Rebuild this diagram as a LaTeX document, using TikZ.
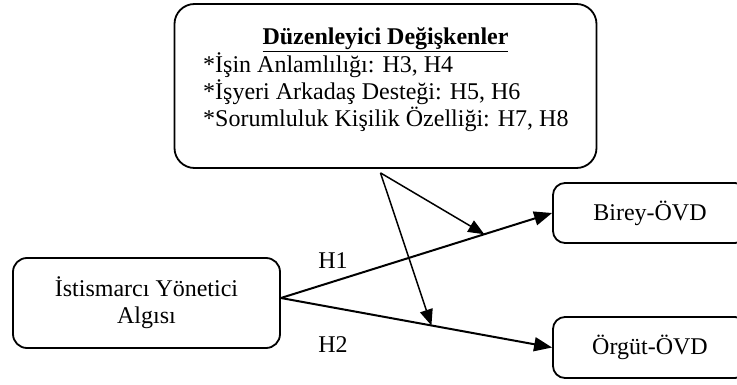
\documentclass[tikz,border=0pt]{standalone}
\usepackage{fontspec}
\setmainfont{Liberation Serif}
\usetikzlibrary{arrows.meta, positioning, calc}
\tikzstyle{kutu} = [draw, line width = 1.8pt, rounded corners = 14pt, inner sep = 0pt]
\tikzstyle{madde} = [anchor = base west, inner sep = 0pt]
\tikzstyle{ok} = [-{Triangle[length = 18pt, width = 14pt]}, line width = 2pt]
\tikzstyle{modok} = [-{Triangle[length = 16pt, width = 13pt]}, line width = 1.5pt]

\begin{document}
\begin{tikzpicture}[x = 1pt, y = -1pt, every node/.style = {font = \fontsize{24}{27}\selectfont}]
    \useasboundingbox (0, 0) rectangle (737, 385);
    % Kutular
    \node[kutu, rounded corners = 20pt, minimum width = 422pt, minimum height = 164pt] (duz) at (385.5, 86) {};
    \node[kutu, minimum width = 267pt, minimum height = 90pt, align = center] (ist) at (146.5, 303) {İstismarcı Yönetici\\Algısı};
    \node[kutu, rounded corners = 12pt, minimum width = 194pt, minimum height = 60pt] (birey) at (650, 213) {Birey-ÖVD};
    \node[kutu, rounded corners = 12pt, minimum width = 194pt, minimum height = 61pt] (orgut) at (650, 347.5) {Örgüt-ÖVD};
    % Düzenleyici değişkenler
    \node[anchor = base, inner sep = 0pt] (baslik) at (385.5, 45) {\textbf{\underline{Düzenleyici Değişkenler}}};
    \node[madde] (m1) at (203, 73) {*İşin Anlamlılığı: H3, H4};
    \node[madde] (m2) at (203, 100) {*İşyeri Arkadaş Desteği: H5, H6};
    \node[madde] (m3) at (203, 127) {*Sorumluluk Kişilik Özelliği: H7, H8};
    % Oklar
    \coordinate (kaynak) at ([yshift = 5pt]ist.east);
    \coordinate (mod) at ([xshift = -5pt, yshift = -4pt]duz.south);
    \draw[ok] (kaynak) -- (birey.west) coordinate[pos = 0.75] (h1orta);
    \draw[ok] (kaynak) -- (orgut.west) coordinate[pos = 0.555] (h2orta);
    \draw[modok] (mod) -- (h1orta);
    \draw[modok] (mod) -- (h2orta);
    % Hipotezler
    \node[anchor = base] (h1) at (333, 268) {H1};
    \node[anchor = base] (h2) at (333, 352) {H2};
\end{tikzpicture}
\end{document}
